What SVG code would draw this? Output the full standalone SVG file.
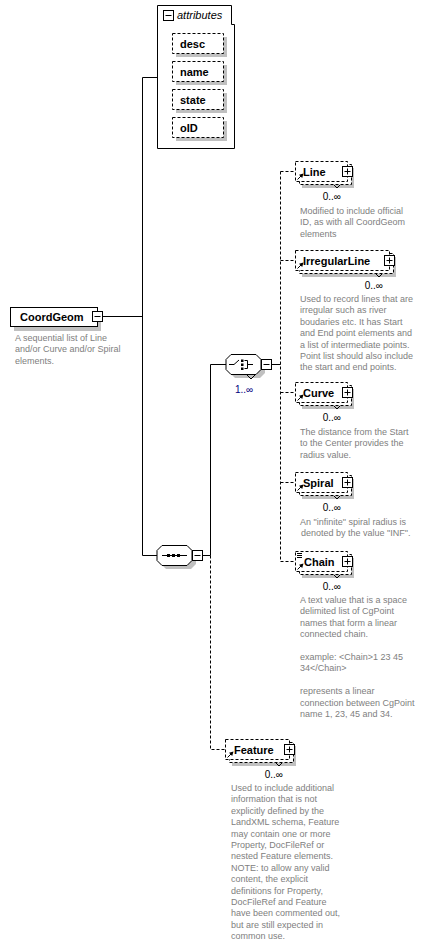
<svg xmlns="http://www.w3.org/2000/svg" width="430" height="941" viewBox="0 0 430 941">
<style>
.bg{fill:#fff}
.sh{fill:#c0c0c0}
.box{fill:#fff;stroke:#000;stroke-width:1}
.dbox{fill:#fff;stroke:#000;stroke-width:1;stroke-dasharray:3,2}
.ln{fill:none;stroke:#000;stroke-width:1}
.dl{fill:none;stroke:#000;stroke-width:1;stroke-dasharray:3,2}
.nm{font-family:"Liberation Sans",Arial,sans-serif;font-size:11px;font-weight:bold;fill:#000}
.it{font-family:"Liberation Sans",Arial,sans-serif;font-size:11px;font-style:italic;fill:#000}
.occ{font-family:"Liberation Sans",Arial,sans-serif;font-size:10px;fill:#000}
.ds{font-family:"Liberation Sans",Arial,sans-serif;font-size:9px;fill:#808080}
.ic{fill:#000}
</style>
<rect class="bg" x="0" y="0" width="430" height="941"/>

<g id="connectors">
<path class="ln" d="M142.5,77.5 H157 M142.5,77.5 V555.5 M102,316.5 H142.5 M142.5,555.5 H157 M202,555.5 H210.5 M210.5,364.5 V555.5 M210.5,364.5 H226 M271,364.5 H280.5"/>
<path class="dl" d="M280.5,171.5 V561.5 M280.5,171.5 H295 M280.5,260.5 H295 M280.5,392.5 H295 M280.5,482.5 H295 M280.5,561.5 H295 M210.5,555.5 V749.5 H225"/>
</g>

<g id="attributes">
<path class="box" d="M157.5,5.5 H231.5 V24.5 H234.5 V148.5 H157.5 Z"/>
<rect class="box" x="163.5" y="10.5" width="10" height="10"/>
<path class="ln" d="M165.5,15.5 H171.5"/>
<text class="it" x="177" y="19">attributes</text>
<rect class="sh" x="176" y="37" width="51" height="20"/>
<rect class="dbox" x="172.5" y="33.5" width="51" height="20"/>
<text class="nm" x="180" y="47.5">desc</text>
<rect class="sh" x="176" y="65" width="51" height="20"/>
<rect class="dbox" x="172.5" y="61.5" width="51" height="20"/>
<text class="nm" x="180" y="75.5">name</text>
<rect class="sh" x="176" y="93" width="51" height="20"/>
<rect class="dbox" x="172.5" y="89.5" width="51" height="20"/>
<text class="nm" x="180" y="103.5">state</text>
<rect class="sh" x="176" y="121" width="51" height="20"/>
<rect class="dbox" x="172.5" y="117.5" width="51" height="20"/>
<text class="nm" x="180" y="131.5">oID</text>
</g>

<g id="CoordGeom">
<rect class="sh" x="14" y="312" width="87" height="19"/>
<rect class="box" x="10.5" y="307.5" width="87" height="19"/>
<rect class="box" x="92.5" y="311.5" width="10" height="10"/>
<path class="ln" d="M94.5,316.5 H100.5"/>
<text class="nm" x="20" y="321">CoordGeom</text>
<text class="ds" x="15" y="341">A sequential list of Line</text>
<text class="ds" x="15" y="352.4">and/or Curve and/or Spiral</text>
<text class="ds" x="15" y="363.8">elements.</text>
</g>

<g id="sequence">
<polygon class="sh" points="166,549 191,549 196,554 196,564 191,569 166,569 161,564 161,554"/>
<polygon class="box" points="162,545.5 187,545.5 192,550.5 192,560.5 187,565.5 162,565.5 157,560.5 157,550.5"/>
<path class="ln" d="M162,555.5 H187"/>
<rect class="ic" x="167" y="554" width="3" height="3"/>
<rect class="ic" x="172" y="554" width="3" height="3"/>
<rect class="ic" x="177" y="554" width="3" height="3"/>
<rect class="box" x="192.5" y="550.5" width="10" height="10"/>
<path class="ln" d="M194.5,555.5 H200.5"/>
</g>

<g id="choice">
<polygon class="sh" points="235,358 260,358 265,363 265,373 260,378 235,378 230,373 230,363"/>
<polygon class="box" points="231,354.5 256,354.5 261,359.5 261,369.5 256,374.5 231,374.5 226,369.5 226,359.5"/>
<polyline class="ln" points="247,375 251,379 255,375"/>
<path class="ln" d="M229,364.5 H234 L239,360"/>
<rect class="ic" x="241" y="359.5" width="2.5" height="2.5"/>
<rect class="ic" x="241" y="363.5" width="2.5" height="2.5"/>
<rect class="ic" x="241" y="367.5" width="2.5" height="2.5"/>
<path class="ln" d="M244.5,360.5 H247.5 V368.5 H244.5 M247.5,364.5 H253"/>
<rect class="box" x="261.5" y="359.5" width="10" height="10"/>
<path class="ln" d="M263.5,364.5 H269.5"/>
<text class="occ" x="244" y="393" text-anchor="middle" fill="#000080" style="fill:#000080">1..∞</text>
</g>

<g id="Line">
<rect class="sh" x="302" y="168" width="52" height="20"/>
<rect class="dbox" x="299.5" y="164.5" width="52" height="20"/>
<rect class="dbox" x="295.5" y="161.5" width="52" height="20"/>
<polyline class="ln" points="334,185 337,188 340,185"/>
<path class="ln" d="M297.5,179.5 L301.5,175.5" stroke-width="1.3"/>
<polygon class="ic" points="303.5,173.5 299,174.8 302.2,178"/>
<rect class="box" x="342.5" y="166.5" width="10" height="10"/>
<path class="ln" d="M344.5,171.5 H350.5 M347.5,168.5 V174.5"/>
<text class="nm" x="303" y="175.5">Line</text>
<text class="occ" x="341" y="200" text-anchor="end">0..∞</text>
<text class="ds" x="300" y="214">Modified to include official</text>
<text class="ds" x="300" y="225.4">ID, as with all CoordGeom</text>
<text class="ds" x="300" y="236.8">elements</text>
</g>

<g id="IrregularLine">
<rect class="sh" x="302" y="257" width="94" height="20"/>
<rect class="dbox" x="299.5" y="253.5" width="94" height="20"/>
<rect class="dbox" x="295.5" y="250.5" width="94" height="20"/>
<polyline class="ln" points="376,274 379,277 382,274"/>
<path class="ln" d="M297.5,268.5 L301.5,264.5" stroke-width="1.3"/>
<polygon class="ic" points="303.5,262.5 299,263.8 302.2,267"/>
<rect class="box" x="384.5" y="255.5" width="10" height="10"/>
<path class="ln" d="M386.5,260.5 H392.5 M389.5,257.5 V263.5"/>
<text class="nm" x="303" y="264.5">IrregularLine</text>
<text class="occ" x="383" y="289" text-anchor="end">0..∞</text>
<text class="ds" x="300" y="302">Used to record lines that are</text>
<text class="ds" x="300" y="313.4">irregular such as river</text>
<text class="ds" x="300" y="324.8">boudaries etc. It has Start</text>
<text class="ds" x="300" y="336.2">and End point elements and</text>
<text class="ds" x="300" y="347.6">a list of intermediate points.</text>
<text class="ds" x="300" y="359">Point list should also include</text>
<text class="ds" x="300" y="370.4">the start and end points.</text>
</g>

<g id="Curve">
<rect class="sh" x="302" y="389" width="52" height="20"/>
<rect class="dbox" x="299.5" y="385.5" width="52" height="20"/>
<rect class="dbox" x="295.5" y="382.5" width="52" height="20"/>
<polyline class="ln" points="334,406 337,409 340,406"/>
<path class="ln" d="M297.5,400.5 L301.5,396.5" stroke-width="1.3"/>
<polygon class="ic" points="303.5,394.5 299,395.8 302.2,399"/>
<rect class="box" x="342.5" y="387.5" width="10" height="10"/>
<path class="ln" d="M344.5,392.5 H350.5 M347.5,389.5 V395.5"/>
<text class="nm" x="303" y="396.5">Curve</text>
<text class="occ" x="341" y="421" text-anchor="end">0..∞</text>
<text class="ds" x="300" y="435">The distance from the Start</text>
<text class="ds" x="300" y="446.4">to the Center provides the</text>
<text class="ds" x="300" y="457.8">radius value.</text>
</g>

<g id="Spiral">
<rect class="sh" x="302" y="479" width="52" height="20"/>
<rect class="dbox" x="299.5" y="475.5" width="52" height="20"/>
<rect class="dbox" x="295.5" y="472.5" width="52" height="20"/>
<polyline class="ln" points="334,496 337,499 340,496"/>
<path class="ln" d="M297.5,490.5 L301.5,486.5" stroke-width="1.3"/>
<polygon class="ic" points="303.5,484.5 299,485.8 302.2,489"/>
<rect class="box" x="342.5" y="477.5" width="10" height="10"/>
<path class="ln" d="M344.5,482.5 H350.5 M347.5,479.5 V485.5"/>
<text class="nm" x="303" y="486.5">Spiral</text>
<text class="occ" x="341" y="511" text-anchor="end">0..∞</text>
<text class="ds" x="300" y="524.5">An "infinite" spiral radius is</text>
<text class="ds" x="301" y="535.9">denoted by the value "INF".</text>
</g>

<g id="Chain">
<rect class="sh" x="302" y="558" width="52" height="20"/>
<rect class="dbox" x="299.5" y="554.5" width="52" height="20"/>
<rect class="dbox" x="295.5" y="551.5" width="52" height="20"/>
<polyline class="ln" points="334,575 337,578 340,575"/>
<path class="ln" d="M297,553.5 H302 M297,555.5 H302 M297,557.5 H302"/>
<path class="ln" d="M297.5,569.5 L301.5,565.5" stroke-width="1.3"/>
<polygon class="ic" points="303.5,563.5 299,564.8 302.2,568"/>
<rect class="box" x="342.5" y="556.5" width="10" height="10"/>
<path class="ln" d="M344.5,561.5 H350.5 M347.5,558.5 V564.5"/>
<text class="nm" x="304" y="565.5">Chain</text>
<text class="occ" x="341" y="590" text-anchor="end">0..∞</text>
<text class="ds" x="300" y="603">A text value that is a space</text>
<text class="ds" x="300" y="614.4">delimited list of CgPoint</text>
<text class="ds" x="300" y="625.8">names that form a linear</text>
<text class="ds" x="300" y="637.2">connected chain.</text>
<text class="ds" x="300" y="660">example: &lt;Chain&gt;1 23 45</text>
<text class="ds" x="300" y="671.4">34&lt;/Chain&gt;</text>
<text class="ds" x="300" y="694.2">represents a linear</text>
<text class="ds" x="300" y="705.6">connection between CgPoint</text>
<text class="ds" x="300" y="717">name 1, 23, 45 and 34.</text>
</g>

<g id="Feature">
<rect class="sh" x="232" y="746" width="64" height="20"/>
<rect class="dbox" x="229.5" y="742.5" width="64" height="20"/>
<rect class="dbox" x="225.5" y="739.5" width="64" height="20"/>
<polyline class="ln" points="276,763 279,766 282,763"/>
<path class="ln" d="M227.5,757.5 L231.5,753.5" stroke-width="1.3"/>
<polygon class="ic" points="233.5,751.5 229,752.8 232.2,756"/>
<rect class="box" x="284.5" y="744.5" width="10" height="10"/>
<path class="ln" d="M286.5,749.5 H292.5 M289.5,746.5 V752.5"/>
<text class="nm" x="234" y="753.5">Feature</text>
<text class="occ" x="283" y="778" text-anchor="end">0..∞</text>
<text class="ds" x="231" y="791">Used to include additional</text>
<text class="ds" x="231" y="802.4">information that is not</text>
<text class="ds" x="231" y="813.8">explicitly defined by the</text>
<text class="ds" x="231" y="825.2">LandXML schema, Feature</text>
<text class="ds" x="231" y="836.6">may contain one or more</text>
<text class="ds" x="231" y="848">Property, DocFileRef or</text>
<text class="ds" x="231" y="859.4">nested Feature elements.</text>
<text class="ds" x="231" y="870.8">NOTE: to allow any valid</text>
<text class="ds" x="231" y="882.2">content, the explicit</text>
<text class="ds" x="231" y="893.6">definitions for Property,</text>
<text class="ds" x="231" y="905">DocFileRef and Feature</text>
<text class="ds" x="231" y="916.4">have been commented out,</text>
<text class="ds" x="231" y="927.8">but are still expected in</text>
<text class="ds" x="231" y="939.2">common use.</text>
</g>
</svg>
